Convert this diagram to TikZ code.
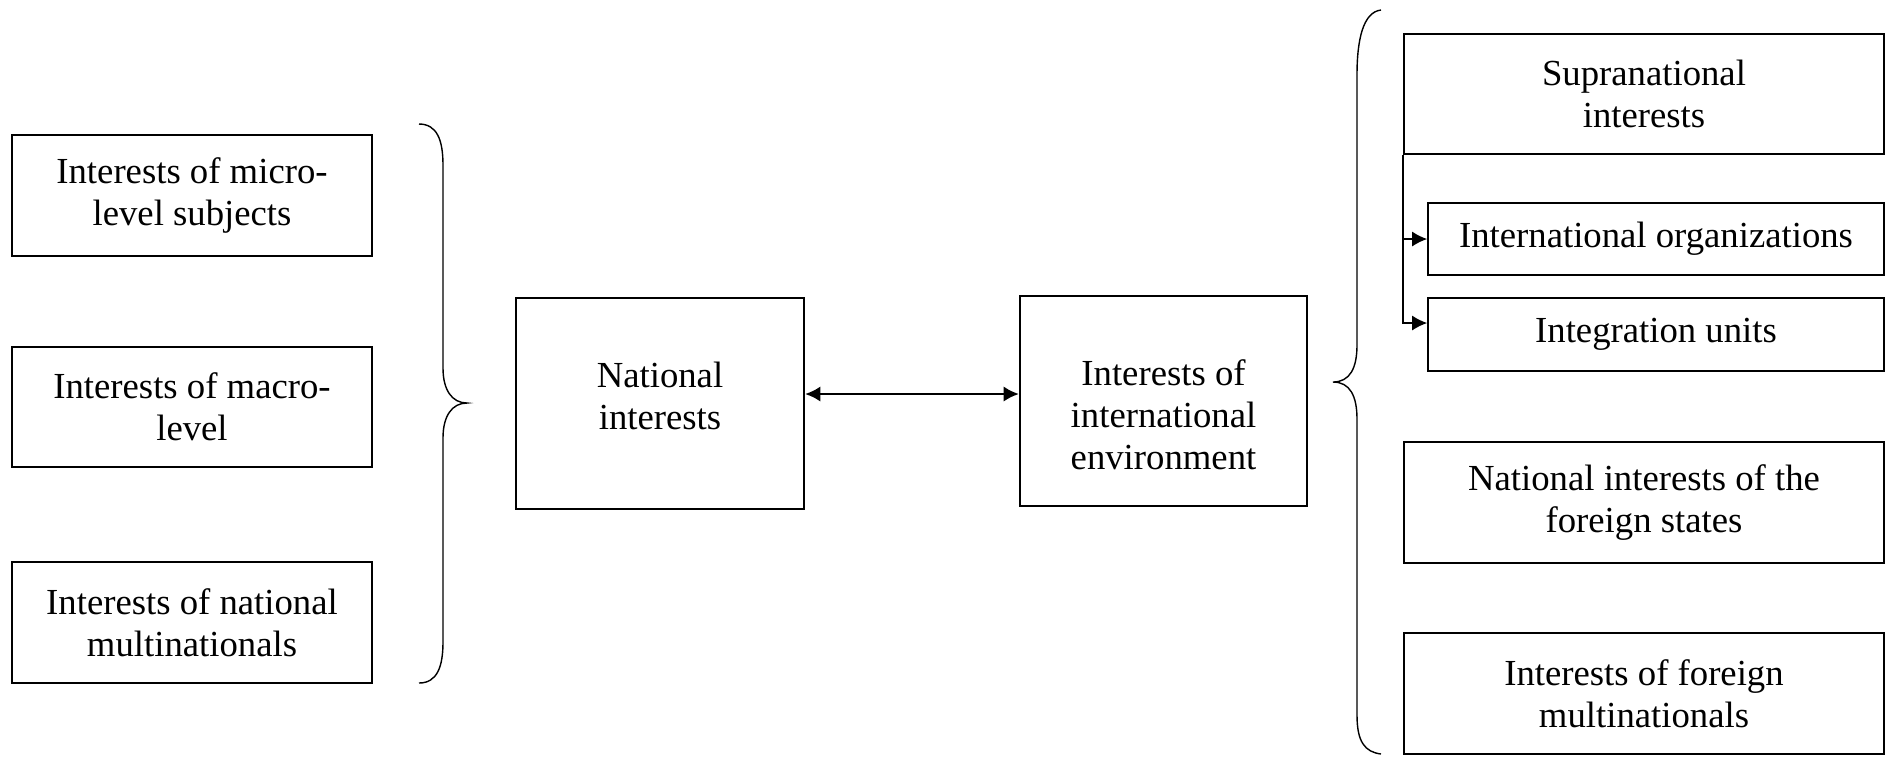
\documentclass[tikz,border=0pt]{standalone}
\usepackage{fontspec}
\setmainfont{Liberation Serif}
\usetikzlibrary{arrows.meta}
\newcommand{\thinline}{0.4pt}
\newcommand{\thickline}{0.6pt}
\newcommand{\boxfont}{\fontsize{10.44}{11.95}\selectfont}

\begin{document}
\begin{tikzpicture}[x=0.01cm, y=-0.01cm, >={Latex[length=4.3pt, width=4.3pt]},
    plainbox/.style={draw, line width=\thinline, inner sep=0pt, align=center, font=\boxfont},
    mainbox/.style={draw, line width=\thickline, inner sep=0pt, minimum width=2.88cm, minimum height=2.11cm},
    boxtext/.style={inner sep=0pt, align=center, font=\boxfont}]
    \useasboundingbox (0,0) rectangle (1887,756);

    \coordinate (arrowlvl) at (0,394);
    \coordinate (unitslvl) at (0,323);

    % left boxes
    \node[plainbox, minimum width=3.6cm, minimum height=1.21cm] (micro) at (192,195.5) {Interests of micro-\\level subjects};
    \node[plainbox, minimum width=3.6cm, minimum height=1.2cm] (macro) at (192,407) {Interests of macro-\\level};
    \node[plainbox, minimum width=3.6cm, minimum height=1.21cm] (natmnc) at (192,622.5) {Interests of national\\multinationals};

    % middle boxes
    \node[mainbox] (nat) at (660,403.5) {};
    \node[boxtext, yshift=0.075cm] (nattext) at (nat.center) {National\\interests};
    \node[mainbox, minimum width=2.87cm, minimum height=2.1cm] (env) at (1163.5,401) {};
    \node[boxtext, yshift=-0.14cm] (envtext) at (env.center) {Interests of\\international\\environment};

    % right boxes
    \node[plainbox, minimum width=4.8cm, minimum height=1.2cm] (supra) at (1644,94) {Supranational\\interests};
    \node[plainbox, minimum width=4.56cm, minimum height=0.72cm] (intorg) at (1656,239) {International organizations};
    \node[plainbox, minimum width=4.56cm, minimum height=0.73cm] (integr) at (1656,334.5) {Integration units};
    \node[plainbox, minimum width=4.8cm, minimum height=1.21cm] (forstates) at (1644,502.5) {National interests of the\\foreign states};
    \node[plainbox, minimum width=4.8cm, minimum height=1.21cm] (formnc) at (1644,693.5) {Interests of foreign\\multinationals};

    % arrows
    \draw[<->, line width=\thickline] (nat.east |- arrowlvl) -- (env.west |- arrowlvl);
    \draw[->, line width=\thinline] (supra.south west) |- (intorg.west);
    \draw[->, line width=\thinline] (supra.south west) |- (integr.west |- unitslvl);

    % braces
    \draw[line width=\thinline] (419,124) .. controls (437,124) and (443,140) .. (443,165) -- (443,368)
        .. controls (443,390) and (452,403) .. (467,403) .. controls (452,403) and (443,416) .. (443,438)
        -- (443,642) .. controls (443,667) and (437,683) .. (419,683);
    \draw[line width=\thinline] (1381,10) .. controls (1363,12) and (1357,40) .. (1357,75) -- (1357,345)
        .. controls (1357,368) and (1350,382) .. (1333,382) .. controls (1350,382) and (1357,396) .. (1357,419)
        -- (1357,715) .. controls (1357,742) and (1365,752) .. (1381,754);
\end{tikzpicture}
\end{document}
